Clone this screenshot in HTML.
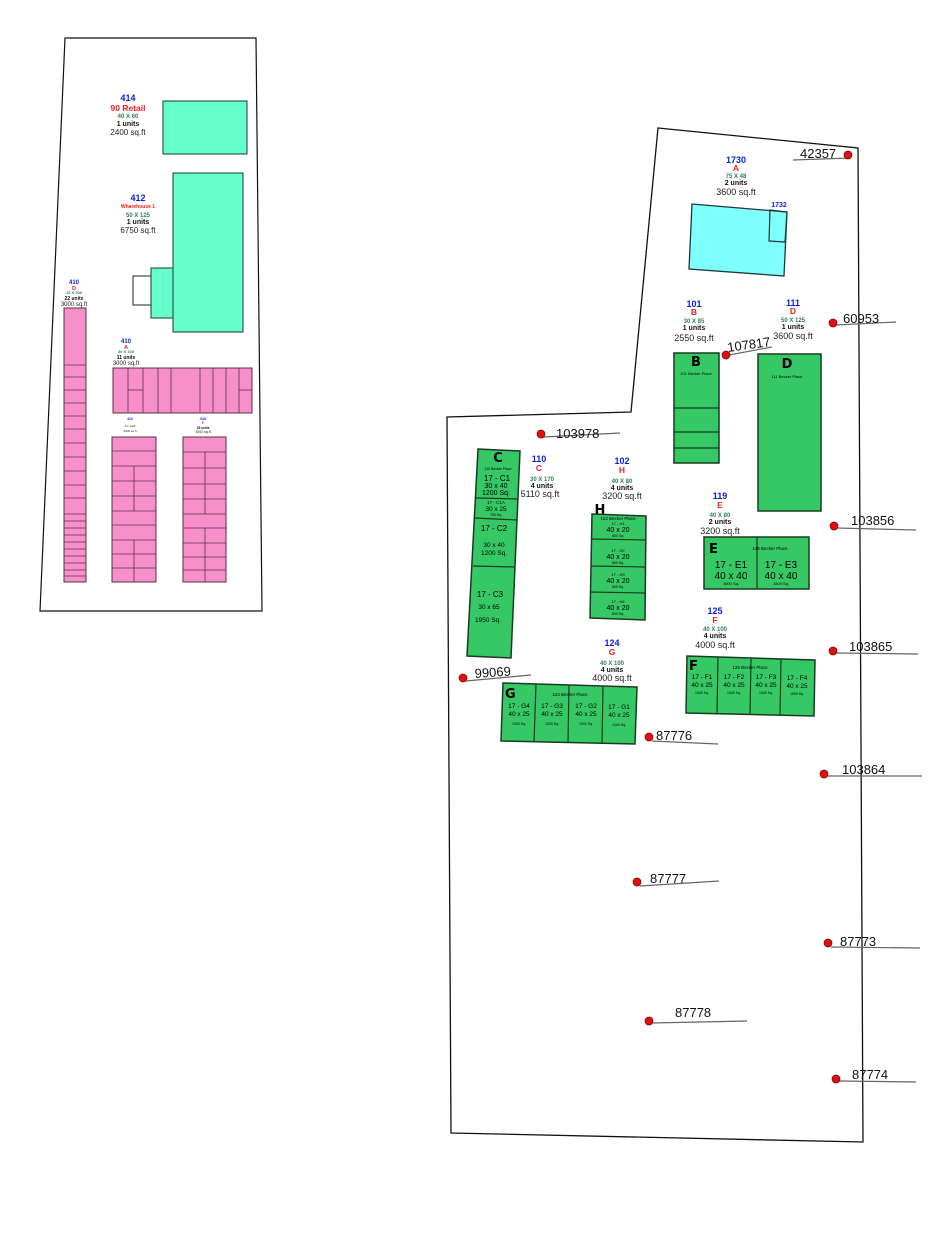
<!DOCTYPE html>
<html><head><meta charset="utf-8"><style>
html,body{margin:0;padding:0;background:#fff;}
svg{display:block;font-family:"Liberation Sans",sans-serif;}
.b{fill:#0a1ee0;font-weight:bold;}
.r{fill:#f01e1e;font-weight:bold;}
.g{fill:#2f7f4f;font-weight:bold;}
.k{fill:#111;font-weight:bold;}
.n{fill:#222;}
.gr{fill:#36c864;stroke:#1a3a22;stroke-width:1.5;}
.pk{fill:#f78fcb;stroke:#5a3040;stroke-width:1;}
.tq{fill:#66ffcc;stroke:#1a3a2a;stroke-width:1;}
.ln{stroke:#1a3a22;stroke-width:1.2;}
.pl{stroke:#5a3040;stroke-width:0.8;}
.dot{fill:#e01010;stroke:#700;stroke-width:0.7;}
.ml{stroke:#666;stroke-width:1.2;}
.mt{font-size:13px;fill:#111;}
</style></head><body>
<svg width="944" height="1258" viewBox="0 0 944 1258" xmlns="http://www.w3.org/2000/svg">
<!-- left parcel -->
<polygon points="65,38 256,38 262,611 40,611" fill="none" stroke="#111" stroke-width="1.2"/>
<!-- 414 -->
<rect x="163" y="101" width="84" height="53" class="tq"/>
<g text-anchor="middle">
<text x="128" y="101" class="b" font-size="9">414</text>
<text x="128" y="111" class="r" font-size="8.5">90 Retail</text>
<text x="128" y="118" class="g" font-size="6">40 X 60</text>
<text x="128" y="126" class="k" font-size="7">1 units</text>
<text x="128" y="135" class="n" font-size="8">2400 sq.ft</text>
<text x="138" y="201" class="b" font-size="9">412</text>
<text x="138" y="208" class="r" font-size="5">Wharehouse 1</text>
<text x="138" y="217" class="g" font-size="6">50 X 125</text>
<text x="138" y="224" class="k" font-size="7">1 units</text>
<text x="138" y="233" class="n" font-size="8">6750 sq.ft</text>
<text x="74" y="284" class="b" font-size="6">410</text>
<text x="74" y="290" class="r" font-size="5.5">D</text>
<text x="74" y="294" class="g" font-size="4">15 X 200</text>
<text x="74" y="300" class="k" font-size="5">22 units</text>
<text x="74" y="306" class="n" font-size="6">3000 sq.ft</text>
<text x="126" y="343" class="b" font-size="6">410</text>
<text x="126" y="349" class="r" font-size="5.5">A</text>
<text x="126" y="353" class="g" font-size="4">30 X 100</text>
<text x="126" y="359" class="k" font-size="5">11 units</text>
<text x="126" y="365" class="n" font-size="6">3000 sq.ft</text>
<text x="130" y="420" class="b" font-size="3.5">410</text>
<text x="130" y="427" class="n" font-size="3">1C 1/20</text>
<text x="130" y="432" class="n" font-size="3">3000 sq.ft</text>
<text x="203" y="420" class="b" font-size="4">410</text>
<text x="203" y="424" class="r" font-size="3.5">F</text>
<text x="203" y="429" class="k" font-size="3.5">18 units</text>
<text x="203" y="433" class="n" font-size="3.5">3000 sq.ft</text>
</g>
<!-- 412 -->
<rect x="133" y="276" width="18" height="29" fill="#fff" stroke="#222" stroke-width="1"/>
<rect x="151" y="268" width="22" height="50" class="tq"/>
<rect x="173" y="173" width="70" height="159" class="tq"/>
<!-- 410 D column -->
<rect x="64" y="308" width="22" height="274" class="pk"/>
<g class="pl">
<line x1="64" y1="365" x2="86" y2="365"/><line x1="64" y1="377" x2="86" y2="377"/><line x1="64" y1="390" x2="86" y2="390"/><line x1="64" y1="403" x2="86" y2="403"/><line x1="64" y1="416" x2="86" y2="416"/><line x1="64" y1="429" x2="86" y2="429"/><line x1="64" y1="443" x2="86" y2="443"/><line x1="64" y1="457" x2="86" y2="457"/><line x1="64" y1="471" x2="86" y2="471"/><line x1="64" y1="485" x2="86" y2="485"/><line x1="64" y1="498" x2="86" y2="498"/><line x1="64" y1="514" x2="86" y2="514"/><line x1="64" y1="521" x2="86" y2="521"/><line x1="64" y1="528" x2="86" y2="528"/><line x1="64" y1="535" x2="86" y2="535"/><line x1="64" y1="542" x2="86" y2="542"/><line x1="64" y1="549" x2="86" y2="549"/><line x1="64" y1="556" x2="86" y2="556"/><line x1="64" y1="563" x2="86" y2="563"/><line x1="64" y1="570" x2="86" y2="570"/><line x1="64" y1="576" x2="86" y2="576"/>
</g>
<!-- 410 A row -->
<rect x="113" y="368" width="139" height="45" class="pk"/>
<g class="pl">
<line x1="128" y1="368" x2="128" y2="413"/><line x1="143" y1="368" x2="143" y2="413"/><line x1="158" y1="368" x2="158" y2="413"/><line x1="171" y1="368" x2="171" y2="413"/><line x1="200" y1="368" x2="200" y2="413"/><line x1="213" y1="368" x2="213" y2="413"/><line x1="226" y1="368" x2="226" y2="413"/><line x1="239" y1="368" x2="239" y2="413"/>
<line x1="128" y1="390" x2="143" y2="390"/><line x1="239" y1="390" x2="252" y2="390"/>
</g>
<!-- 1C block -->
<rect x="112" y="437" width="44" height="145" class="pk"/>
<g class="pl">
<line x1="112" y1="451" x2="156" y2="451"/><line x1="112" y1="466" x2="156" y2="466"/><line x1="112" y1="481" x2="156" y2="481"/><line x1="112" y1="496" x2="156" y2="496"/><line x1="112" y1="511" x2="156" y2="511"/><line x1="112" y1="525" x2="156" y2="525"/><line x1="112" y1="540" x2="156" y2="540"/><line x1="112" y1="554" x2="156" y2="554"/><line x1="112" y1="568" x2="156" y2="568"/>
<line x1="134" y1="466" x2="134" y2="511"/><line x1="134" y1="540" x2="134" y2="582"/>
</g>
<!-- 18 block -->
<rect x="183" y="437" width="43" height="145" class="pk"/>
<g class="pl">
<line x1="183" y1="452" x2="226" y2="452"/><line x1="183" y1="468" x2="226" y2="468"/><line x1="183" y1="484" x2="226" y2="484"/><line x1="183" y1="499" x2="226" y2="499"/><line x1="183" y1="514" x2="226" y2="514"/><line x1="183" y1="528" x2="226" y2="528"/><line x1="183" y1="543" x2="226" y2="543"/><line x1="183" y1="557" x2="226" y2="557"/><line x1="183" y1="570" x2="226" y2="570"/>
<line x1="205" y1="452" x2="205" y2="514"/><line x1="205" y1="528" x2="205" y2="582"/>
</g>

<!-- right parcel -->
<polygon points="658,128 858,148 863,1142 451,1133 447,417 631,412" fill="none" stroke="#111" stroke-width="1.3"/>
<!-- A -->
<polygon points="692,204 787,212 784,276 689,269" fill="#80ffff" stroke="#1a3a3a" stroke-width="1.3"/>
<polygon points="770,210 787,212 785,242 769,241" fill="none" stroke="#1a3a3a" stroke-width="1.2"/>
<g text-anchor="middle">
<text x="736" y="163" class="b" font-size="9">1730</text>
<text x="736" y="171" class="r" font-size="8.5">A</text>
<text x="736" y="178" class="g" font-size="6">75 X 48</text>
<text x="736" y="185" class="k" font-size="7">2 units</text>
<text x="736" y="195" class="n" font-size="9">3600 sq.ft</text>
<text x="779" y="207" class="b" font-size="7">1732</text>
<text x="694" y="307" class="b" font-size="9">101</text>
<text x="694" y="315" class="r" font-size="8.5">B</text>
<text x="694" y="323" class="g" font-size="6">30 X 85</text>
<text x="694" y="330" class="k" font-size="7">1 units</text>
<text x="694" y="341" class="n" font-size="9">2550 sq.ft</text>
<text x="793" y="306" class="b" font-size="9">111</text>
<text x="793" y="314" class="r" font-size="8.5">D</text>
<text x="793" y="322" class="g" font-size="6">50 X 125</text>
<text x="793" y="329" class="k" font-size="7">1 units</text>
<text x="793" y="339" class="n" font-size="9">3600 sq.ft</text>
<text x="539" y="462" class="b" font-size="9">110</text>
<text x="539" y="471" class="r" font-size="8.5">C</text>
<text x="542" y="481" class="g" font-size="6">30 X 170</text>
<text x="542" y="488" class="k" font-size="7">4 units</text>
<text x="540" y="497" class="n" font-size="9">5110 sq.ft</text>
<text x="622" y="464" class="b" font-size="9">102</text>
<text x="622" y="473" class="r" font-size="8.5">H</text>
<text x="622" y="483" class="g" font-size="6">40 X 80</text>
<text x="622" y="490" class="k" font-size="7">4 units</text>
<text x="622" y="499" class="n" font-size="9">3200 sq.ft</text>
<text x="720" y="499" class="b" font-size="9">119</text>
<text x="720" y="508" class="r" font-size="8.5">E</text>
<text x="720" y="517" class="g" font-size="6">40 X 80</text>
<text x="720" y="524" class="k" font-size="7">2 units</text>
<text x="720" y="534" class="n" font-size="9">3200 sq.ft</text>
<text x="715" y="614" class="b" font-size="9">125</text>
<text x="715" y="623" class="r" font-size="8.5">F</text>
<text x="715" y="631" class="g" font-size="6">40 X 100</text>
<text x="715" y="638" class="k" font-size="7">4 units</text>
<text x="715" y="648" class="n" font-size="9">4000 sq.ft</text>
<text x="612" y="646" class="b" font-size="9">124</text>
<text x="612" y="655" class="r" font-size="8.5">G</text>
<text x="612" y="665" class="g" font-size="6">40 X 100</text>
<text x="612" y="672" class="k" font-size="7">4 units</text>
<text x="612" y="681" class="n" font-size="9">4000 sq.ft</text>
</g>
<!-- B -->
<rect x="674" y="353" width="45" height="110" class="gr"/>
<g class="ln"><line x1="674" y1="408" x2="719" y2="408"/><line x1="674" y1="432" x2="719" y2="432"/><line x1="674" y1="448" x2="719" y2="448"/></g>
<text x="696" y="366" text-anchor="middle" font-size="13" font-weight="bold" font-family="DejaVu Sans">B</text>
<text x="696" y="375" text-anchor="middle" font-size="4">101 Becker Place</text>
<!-- D -->
<rect x="758" y="354" width="63" height="157" class="gr"/>
<text x="787" y="368" text-anchor="middle" font-size="13" font-weight="bold" font-family="DejaVu Sans">D</text>
<text x="787" y="378" text-anchor="middle" font-size="4">111 Becker Place</text>
<!-- C -->
<polygon points="478,449 520,451 511,658 467,656" class="gr"/>
<g class="ln"><line x1="476" y1="498" x2="518" y2="499"/><line x1="475" y1="518" x2="517" y2="520"/><line x1="473" y1="566" x2="515" y2="567"/></g>
<g text-anchor="middle">
<text x="498" y="462" font-size="13" font-weight="bold" font-family="DejaVu Sans">C</text>
<text x="498" y="470" font-size="3.5">110 Becker Place</text>
<text x="497" y="481" font-size="8">17 - C1</text>
<text x="496" y="488" font-size="7">30  x 40</text>
<text x="496" y="495" font-size="7">1200 Sq.</text>
<text x="496" y="504" font-size="4.5">17 - C1A</text>
<text x="496" y="511" font-size="6.5">30  x 25</text>
<text x="496" y="516" font-size="3.5">750 Sq.</text>
<text x="494" y="531" font-size="8">17 - C2</text>
<text x="494" y="547" font-size="6.5">30  x 40</text>
<text x="494" y="555" font-size="6.5">1200 Sq.</text>
<text x="490" y="597" font-size="8">17 - C3</text>
<text x="489" y="609" font-size="6.5">30  x 65</text>
<text x="488" y="622" font-size="6.5">1950 Sq.</text>
</g>
<!-- H -->
<text x="600" y="514" text-anchor="middle" font-size="13" font-weight="bold" font-family="DejaVu Sans">H</text>
<polygon points="592,514 646,516 645,620 590,618" class="gr"/>
<g class="ln"><line x1="592" y1="539" x2="646" y2="540"/><line x1="591" y1="566" x2="645" y2="567"/><line x1="590" y1="592" x2="645" y2="593"/></g>
<g text-anchor="middle">
<text x="618" y="520" font-size="4.5">102 Becker Place</text>
<text x="618" y="525" font-size="4">17 - H1</text>
<text x="618" y="532" font-size="7">40 x 20</text>
<text x="618" y="537" font-size="3.5">800 Sq.</text>
<text x="618" y="552" font-size="4">17 - H2</text>
<text x="618" y="559" font-size="7">40 x 20</text>
<text x="618" y="564" font-size="3.5">800 Sq.</text>
<text x="618" y="576" font-size="4">17 - H3</text>
<text x="618" y="583" font-size="7">40 x 20</text>
<text x="618" y="588" font-size="3.5">800 Sq.</text>
<text x="618" y="603" font-size="4">17 - H4</text>
<text x="618" y="610" font-size="7">40 x 20</text>
<text x="618" y="615" font-size="3.5">800 Sq.</text>
</g>
<!-- E -->
<rect x="704" y="537" width="105" height="52" class="gr"/>
<line x1="757" y1="537" x2="757" y2="589" class="ln"/>
<text x="709" y="553" font-size="13" font-weight="bold" font-family="DejaVu Sans">E</text>
<g text-anchor="middle">
<text x="770" y="550" font-size="4.5">119 Becker Place</text>
<text x="731" y="568" font-size="10">17 - E1</text>
<text x="731" y="579" font-size="10">40 x 40</text>
<text x="731" y="585" font-size="4">1600 Sq.</text>
<text x="781" y="568" font-size="10">17 - E3</text>
<text x="781" y="579" font-size="10">40 x 40</text>
<text x="781" y="585" font-size="4">1600 Sq.</text>
</g>
<!-- F -->
<polygon points="687,656 815,660 814,716 686,713" class="gr"/>
<g class="ln"><line x1="718" y1="657" x2="717" y2="714"/><line x1="751" y1="658" x2="750" y2="715"/><line x1="781" y1="659" x2="780" y2="715"/></g>
<text x="689" y="670" font-size="13" font-weight="bold" font-family="DejaVu Sans">F</text>
<g text-anchor="middle">
<text x="750" y="669" font-size="4.5">125 Becker Place</text>
<text x="702" y="679" font-size="6.5">17 - F1</text><text x="702" y="687" font-size="6.5">40 x 25</text><text x="702" y="694" font-size="3.5">1000 Sq.</text>
<text x="734" y="679" font-size="6.5">17 - F2</text><text x="734" y="687" font-size="6.5">40 x 25</text><text x="734" y="694" font-size="3.5">1000 Sq.</text>
<text x="766" y="679" font-size="6.5">17 - F3</text><text x="766" y="687" font-size="6.5">40 x 25</text><text x="766" y="694" font-size="3.5">1000 Sq.</text>
<text x="797" y="680" font-size="6.5">17 - F4</text><text x="797" y="688" font-size="6.5">40 x 25</text><text x="797" y="695" font-size="3.5">1000 Sq.</text>
</g>
<!-- G -->
<polygon points="503,683 637,687 635,744 501,741" class="gr"/>
<g class="ln"><line x1="536" y1="684" x2="534" y2="742"/><line x1="569" y1="685" x2="568" y2="743"/><line x1="603" y1="686" x2="602" y2="743"/></g>
<text x="505" y="698" font-size="13" font-weight="bold" font-family="DejaVu Sans">G</text>
<g text-anchor="middle">
<text x="570" y="696" font-size="4.5">124 Becker Place</text>
<text x="519" y="708" font-size="6.5">17 - G4</text><text x="519" y="716" font-size="6.5">40 x 25</text><text x="519" y="725" font-size="3.5">1000 Sq.</text>
<text x="552" y="708" font-size="6.5">17 - G3</text><text x="552" y="716" font-size="6.5">40 x 25</text><text x="552" y="725" font-size="3.5">1000 Sq.</text>
<text x="586" y="708" font-size="6.5">17 - G2</text><text x="586" y="716" font-size="6.5">40 x 25</text><text x="586" y="725" font-size="3.5">1000 Sq.</text>
<text x="619" y="709" font-size="6.5">17 - G1</text><text x="619" y="717" font-size="6.5">40 x 25</text><text x="619" y="726" font-size="3.5">1000 Sq.</text>
</g>
<!-- markers -->
<g>
<line x1="793" y1="160" x2="850" y2="158" class="ml"/><text x="800" y="158" class="mt">42357</text><circle cx="848" cy="155" r="4" class="dot"/>
<line x1="836" y1="325" x2="896" y2="322" class="ml"/><text x="843" y="323" class="mt">60953</text><circle cx="833" cy="323" r="4" class="dot"/>
<line x1="729" y1="355" x2="772" y2="347" class="ml"/><text x="728" y="352" class="mt" transform="rotate(-8 728 352)">107817</text><circle cx="726" cy="355" r="4" class="dot"/>
<line x1="544" y1="437" x2="620" y2="433" class="ml"/><text x="556" y="438" class="mt">103978</text><circle cx="541" cy="434" r="4" class="dot"/>
<line x1="837" y1="528" x2="916" y2="530" class="ml"/><text x="851" y="525" class="mt">103856</text><circle cx="834" cy="526" r="4" class="dot"/>
<line x1="836" y1="653" x2="918" y2="654" class="ml"/><text x="849" y="651" class="mt">103865</text><circle cx="833" cy="651" r="4" class="dot"/>
<line x1="827" y1="776" x2="922" y2="776" class="ml"/><text x="842" y="774" class="mt">103864</text><circle cx="824" cy="774" r="4" class="dot"/>
<line x1="466" y1="681" x2="531" y2="675" class="ml"/><text x="475" y="678" class="mt" transform="rotate(-4 475 678)">99069</text><circle cx="463" cy="678" r="4" class="dot"/>
<line x1="652" y1="741" x2="718" y2="744" class="ml"/><text x="656" y="740" class="mt">87776</text><circle cx="649" cy="737" r="4" class="dot"/>
<line x1="640" y1="886" x2="719" y2="881" class="ml"/><text x="650" y="883" class="mt">87777</text><circle cx="637" cy="882" r="4" class="dot"/>
<line x1="831" y1="947" x2="920" y2="948" class="ml"/><text x="840" y="946" class="mt">87773</text><circle cx="828" cy="943" r="4" class="dot"/>
<line x1="652" y1="1023" x2="747" y2="1021" class="ml"/><text x="675" y="1017" class="mt">87778</text><circle cx="649" cy="1021" r="4" class="dot"/>
<line x1="839" y1="1081" x2="916" y2="1082" class="ml"/><text x="852" y="1079" class="mt">87774</text><circle cx="836" cy="1079" r="4" class="dot"/>
</g>
</svg>
</body></html>
